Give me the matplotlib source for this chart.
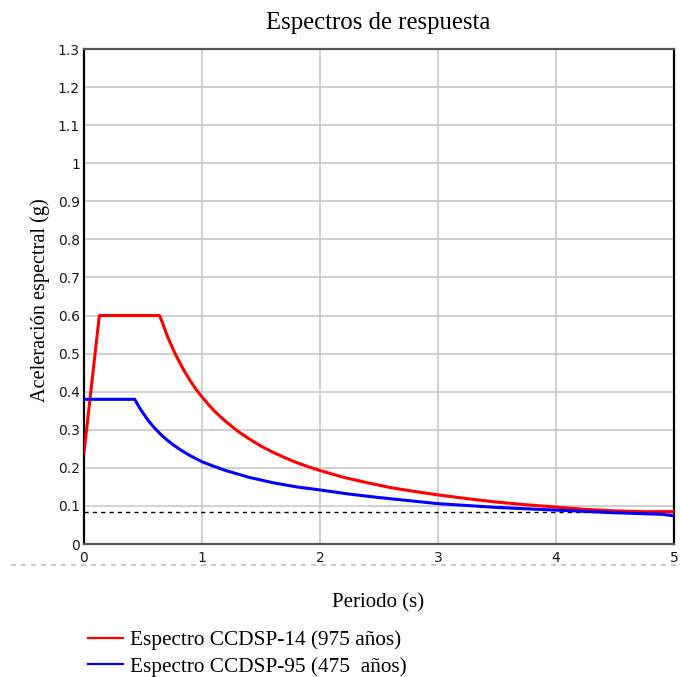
import matplotlib
matplotlib.use("Agg")
import matplotlib.pyplot as plt
from matplotlib.lines import Line2D

# Espectro CCDSP-14 (975 años)
T_14 = [0.0, 0.13, 0.64, 0.66, 0.68, 0.70, 0.72, 0.74, 0.76, 0.78, 0.80, 0.85, 0.90,
        0.95, 1.00, 1.05, 1.10, 1.15, 1.20, 1.30, 1.40, 1.50, 1.60, 1.70, 1.80, 1.90,
        2.00, 2.20, 2.40, 2.60, 2.80, 3.00, 3.25, 3.50, 3.75, 4.00, 4.25, 4.50, 4.75, 5.00]
Sa_14 = [0.24, 0.60, 0.60, 0.585, 0.568, 0.551, 0.536, 0.522, 0.508, 0.495, 0.483, 0.454, 0.429,
         0.406, 0.386, 0.368, 0.351, 0.336, 0.322, 0.297, 0.276, 0.257, 0.241, 0.227, 0.214, 0.203,
         0.193, 0.175, 0.161, 0.148, 0.138, 0.129, 0.119, 0.110, 0.103, 0.097, 0.091, 0.087, 0.085, 0.085]

# Espectro CCDSP-95 (475 años)
T_95 = [0.0, 0.43, 0.45, 0.47, 0.50, 0.55, 0.60, 0.65, 0.70, 0.75, 0.80, 0.85, 0.90, 0.95,
        1.00, 1.10, 1.20, 1.30, 1.40, 1.50, 1.60, 1.80, 2.00, 2.25, 2.50, 2.75, 3.00,
        3.50, 4.00, 4.50, 4.90, 5.00]
Sa_95 = [0.38, 0.38, 0.369, 0.358, 0.344, 0.322, 0.304, 0.288, 0.274, 0.262, 0.251, 0.241, 0.232, 0.224,
         0.216, 0.204, 0.193, 0.184, 0.175, 0.168, 0.161, 0.150, 0.142, 0.131, 0.122, 0.114, 0.106,
         0.096, 0.089, 0.082, 0.078, 0.074]

# minimum level (dashed)
T_min = [0.0, 5.0]
Sa_min = [0.085, 0.085]

x_ticks = [0, 1, 2, 3, 4, 5]
y_ticks = [round(0.1 * i, 1) for i in range(14)]
y_labels = ["0", "0.1", "0.2", "0.3", "0.4", "0.5", "0.6", "0.7", "0.8", "0.9",
            "1", "1.1", "1.2", "1.3"]

serif = "Liberation Serif"

fig = plt.figure(figsize=(6.8, 6.77), dpi=100)
ax = fig.add_axes([84 / 680, 1 - 544 / 677, 590 / 680, 495 / 677])

ax.plot(T_min, Sa_min, color="black", lw=1.0, ls=(0, (3, 3)), zorder=2)
ax.plot(T_14, Sa_14, color="#ff0000", lw=2.2, zorder=3, label="Espectro CCDSP-14 (975 años)")
ax.plot(T_95, Sa_95, color="#0000ff", lw=2.2, zorder=3, label="Espectro CCDSP-95 (475  años)")

ax.set_xlim(0, 5)
ax.set_ylim(0, 1.3)
ax.set_xticks(x_ticks)
ax.set_yticks(y_ticks)
ax.set_yticklabels(y_labels)
ax.tick_params(length=0, labelsize=10, colors="#1a1a1a", pad=3)
ax.tick_params(axis="x", pad=5)
ax.grid(True, color="#c8c8c8", lw=1.2)
ax.set_axisbelow(True)

ax.spines["left"].set_color("black")
ax.spines["right"].set_color("black")
ax.spines["top"].set_color("#555555")
ax.spines["bottom"].set_color("#555555")
for s in ax.spines.values():
    s.set_linewidth(1.6)

fig.text(378 / 680, 1 - 23 / 677, "Espectros de respuesta", family=serif,
         fontsize=17.8, ha="center", va="center")
fig.text(378 / 680, 1 - 603 / 677, "Periodo (s)", family=serif,
         fontsize=15, ha="center", va="center")
fig.text(40 / 680, 1 - 300 / 677, "Aceleración espectral (g)", family=serif,
         fontsize=14.6, ha="center", va="center", rotation=90)

# dashed separator under the plot
fig.add_artist(Line2D([11 / 680, 1.0], [1 - 565 / 677, 1 - 565 / 677],
                      color="#c0c0c0", lw=1.2, ls=(0, (3, 3)), transform=fig.transFigure))

handles = [Line2D([], [], color="#ff0000", lw=1.6), Line2D([], [], color="#0000ff", lw=1.6)]
labels = ["Espectro CCDSP-14 (975 años)", "Espectro CCDSP-95 (475  años)"]
leg = fig.legend(handles, labels, loc="upper left", bbox_to_anchor=(77 / 680, 1 - 620 / 677),
                 frameon=False, prop={"family": serif, "size": 15.3},
                 handlelength=1.67, handletextpad=0.33, labelspacing=0.3, borderpad=0)

fig.savefig("out.png", dpi=100)
